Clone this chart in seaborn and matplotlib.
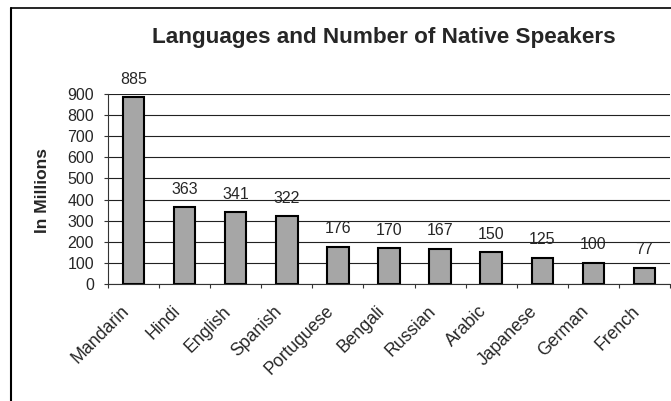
import pandas as pd
import seaborn as sns
import matplotlib.pyplot as plt
from matplotlib.lines import Line2D
from matplotlib.ticker import FixedLocator

languages = ['Mandarin', 'Hindi', 'English', 'Spanish', 'Portuguese', 'Bengali',
             'Russian', 'Arabic', 'Japanese', 'German', 'French']
speakers = [885, 363, 341, 322, 176, 170, 167, 150, 125, 100, 77]
yticks = [0, 100, 200, 300, 400, 500, 600, 700, 800, 900]

df = pd.DataFrame({'Language': languages, 'Speakers': speakers})

sns.set_style('white')
plt.rcParams['font.family'] = ['Liberation Sans', 'DejaVu Sans']

fig = plt.figure(figsize=(6.71, 4.01), dpi=100)
ax = fig.add_axes([108 / 671, 1 - 284 / 401, 562 / 671, 190 / 401])

sns.barplot(data=df, x='Language', y='Speakers', ax=ax, color='#a6a6a6',
            edgecolor='black', linewidth=1.5, width=0.42, saturation=1)

ax.set_ylim(0, 900)
ax.set_xlim(-0.5, len(languages) - 0.5)
ax.set_yticks(yticks)
ax.yaxis.grid(True, color='#222222', linewidth=0.8)
ax.set_axisbelow(True)
for s in ['top', 'right']:
    ax.spines[s].set_visible(False)
for s in ['left', 'bottom']:
    ax.spines[s].set_color('#333333')
    ax.spines[s].set_linewidth(0.8)

# Excel style ticks at category boundaries
ax.xaxis.set_minor_locator(FixedLocator([i - 0.5 for i in range(len(languages) + 1)]))
ax.tick_params(axis='x', which='minor', length=3, width=0.8, color='#333333', bottom=True)
ax.tick_params(axis='y', length=3, width=0.8, color='#333333', left=True, labelsize=11.5, pad=7)
ax.set_xticks(range(len(languages)))
ax.set_xticklabels([])
ax.tick_params(axis='x', which='major', length=0)

# rotated category labels
for i, name in enumerate(languages):
    ax.annotate(name, (i, 0), xycoords=('data', 'axes fraction'),
                xytext=(-9.5, -13.5), textcoords='offset points',
                ha='right', va='top', rotation=45, rotation_mode='anchor',
                fontsize=12.7)

for i, v in enumerate(speakers):
    ax.annotate(str(v), (i, v), xytext=(0, 7.5), textcoords='offset points',
                ha='center', va='bottom', fontsize=11.5)

ax.set_xlabel('')
ax.set_ylabel('In Millions', fontsize=12.5, fontweight='bold')
ax.yaxis.set_label_coords(-0.103, 0.49)
fig.text(384 / 671, 1 - 38 / 401, 'Languages and Number of Native Speakers',
         ha='center', va='center', fontsize=16.2, fontweight='bold')

# outer chart border (left and top visible)
fig.add_artist(Line2D([10.5 / 671, 10.5 / 671], [0, 1 - 8 / 401], color='black', linewidth=1.5))
fig.add_artist(Line2D([10.5 / 671, 1], [1 - 8 / 401, 1 - 8 / 401], color='black', linewidth=1.2))

fig.savefig('out.png', dpi=100)
